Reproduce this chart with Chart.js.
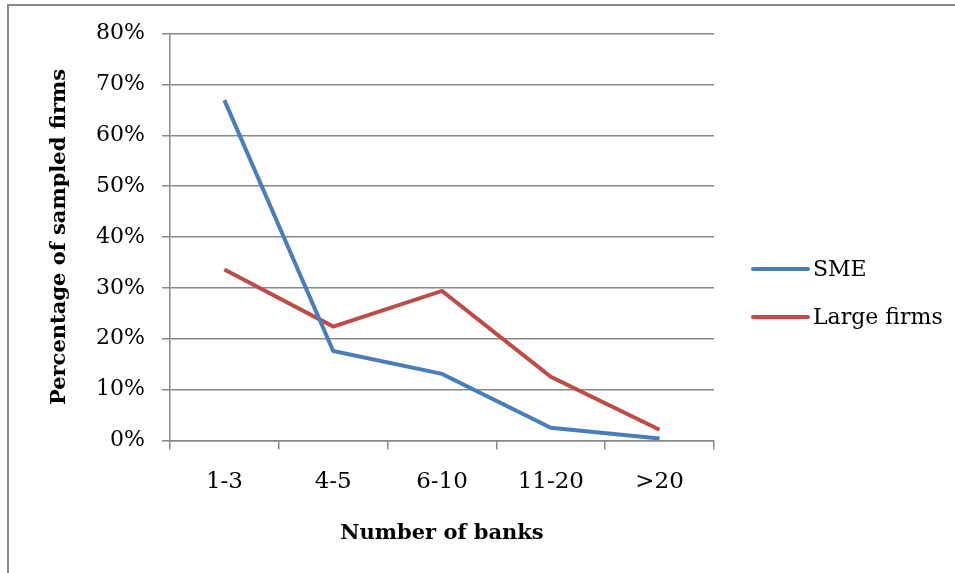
<!DOCTYPE html>
<html>
<head>
<meta charset="utf-8">
<script src="https://cdn.jsdelivr.net/npm/chart.js@4/dist/chart.umd.min.js"></script>
<style>
  html, body { margin: 0; padding: 0; background: #fff; }
  #wrap { width: 955px; height: 573px; position: relative; }
</style>
</head>
<body>
<div id="wrap"><canvas id="c" width="955" height="573"></canvas></div>
<script>
// Share of sampled firms by number of banks they deal with (%)
const categories = ['1-3', '4-5', '6-10', '11-20', '>20'];
const smeValues = [66.9, 17.6, 13.1, 2.5, 0.4];
const largeValues = [33.6, 22.4, 29.4, 12.5, 2.1];
const seriesNames = ['SME', 'Large firms'];
const seriesColors = ['#4A7EBB', '#BE4B48'];

const SERIF = '"DejaVu Serif", "Liberation Serif", serif';
const GRID = '#878787';

// Outer frame (top and left edges of the chart box)
const framePlugin = {
  id: 'frame',
  beforeDraw(chart) {
    const ctx = chart.ctx;
    ctx.save();
    ctx.strokeStyle = '#8a8a8a';
    ctx.lineWidth = 2;
    ctx.beginPath();
    ctx.moveTo(8, 573);
    ctx.lineTo(8, 5);
    ctx.lineTo(955, 5);
    ctx.stroke();
    ctx.restore();
  }
};

// Legend to the right of the plot: line sample followed by series name
const sideLegend = {
  id: 'sideLegend',
  afterDraw(chart) {
    const ctx = chart.ctx;
    const area = chart.chartArea;
    const x0 = area.right + 39;
    const rowY = [269, 317];
    ctx.save();
    ctx.font = '22px ' + SERIF;
    ctx.textBaseline = 'middle';
    ctx.textAlign = 'left';
    chart.data.datasets.forEach((ds, i) => {
      const y = rowY[i];
      ctx.strokeStyle = ds.borderColor;
      ctx.lineWidth = 4;
      ctx.lineCap = 'round';
      ctx.beginPath();
      ctx.moveTo(x0, y);
      ctx.lineTo(x0 + 55, y);
      ctx.stroke();
      ctx.fillStyle = '#000';
      ctx.fillText(ds.label, x0 + 60, y + 1);
    });
    ctx.restore();
  }
};

new Chart(document.getElementById('c'), {
  type: 'line',
  data: {
    labels: categories,
    datasets: [
      { label: seriesNames[0], data: smeValues, borderColor: seriesColors[0], backgroundColor: seriesColors[0],
        borderWidth: 4, pointRadius: 0, tension: 0, fill: false },
      { label: seriesNames[1], data: largeValues, borderColor: seriesColors[1], backgroundColor: seriesColors[1],
        borderWidth: 4, pointRadius: 0, tension: 0, fill: false }
    ]
  },
  options: {
    responsive: false,
    animation: false,
    layout: { padding: { top: 33.5, right: 241, left: 0, bottom: 0 } },
    plugins: { legend: { display: false }, tooltip: { enabled: false } },
    scales: {
      x: {
        offset: true,
        grid: { offset: true, drawOnChartArea: false, drawTicks: true, tickLength: 9, color: GRID, lineWidth: 1.5 },
        border: { display: true, color: GRID, width: 1.5 },
        ticks: { color: '#000', font: { family: SERIF, size: 23 }, padding: 19 },
        title: { display: true, text: 'Number of banks', color: '#000',
                 font: { family: SERIF, size: 21, weight: 'bold' }, padding: { bottom: 27 } },
        afterFit(scale) { scale.height = 132.5; }
      },
      y: {
        min: 0, max: 80,
        grid: { color: GRID, lineWidth: 1.5, drawTicks: true, tickLength: 8 },
        border: { display: true, color: GRID, width: 1.5 },
        ticks: { stepSize: 10, color: '#000', font: { family: SERIF, size: 22 }, padding: 17,
                 callback: v => v + '%' },
        title: { display: true, text: 'Percentage of sampled firms', color: '#000',
                 font: { family: SERIF, size: 21, weight: 'bold' }, padding: { top: 47 } },
        afterFit(scale) { scale.width = 170; }
      }
    }
  },
  plugins: [framePlugin, sideLegend]
});
</script>
</body>
</html>
